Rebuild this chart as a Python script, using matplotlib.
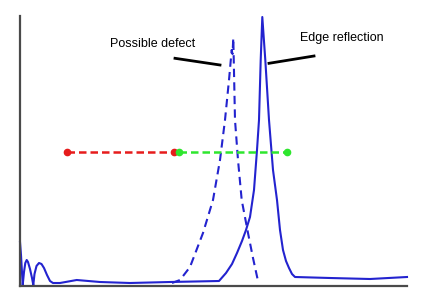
import matplotlib
matplotlib.use("Agg")
import matplotlib.pyplot as plt

# Edge reflection (solid) trace
solid_x = [0, 1, 2.7, 4, 5.3, 6.7, 8, 10, 12, 13.3, 14.5, 16.5, 19, 21.5, 24, 27, 30, 33,
           40, 56.7, 80, 110, 150, 199,
           206, 212, 217, 222, 226, 230, 234, 237, 239, 240.7, 242.3, 245.3, 249, 253, 257,
           260, 263, 266, 269, 272, 275, 310, 350, 387]
solid_y = [44, 31, 1, 14, 23, 26, 24, 17, 8, 1, 12, 20, 23, 22, 18, 11, 5, 3,
           3, 6, 4, 3, 4, 5,
           13, 22, 33, 45, 56, 69, 96, 136, 166, 226, 269, 226, 166, 116, 86,
           56, 36, 25, 18, 12, 9, 8, 7, 9]

# Possible defect (dashed) trace
dashed_x = [152, 160, 170, 183, 193, 200, 205, 209, 211.7, 212.5, 213.3, 215, 218, 221.7, 228, 233, 238]
dashed_y = [3, 6, 19, 53, 86, 126, 166, 206, 236, 232, 248, 166, 126, 86, 53, 28, 5]

# Horizontal range markers
red_x = [46.7, 154]
red_y = [134, 134]
green_x = [159.3, 266.7]
green_y = [134, 134]

# Annotation labels and leader lines
label_defect = "Possible defect"
label_edge = "Edge reflection"
defect_line_x = [155, 200]
defect_line_y = [227.7, 221]
edge_line_x = [249, 294]
edge_line_y = [222.7, 230]

fig = plt.figure(figsize=(4.4, 3.02), dpi=100)
ax = fig.add_axes([20 / 440, 16 / 302, 387 / 440, 270 / 302])
ax.set_xlim(0, 387)
ax.set_ylim(0, 270)

blue = "#2323cf"
ax.plot(solid_x, solid_y, color=blue, lw=1.5, clip_on=False)
ax.plot(dashed_x, dashed_y, color=blue, lw=1.5, ls=(0, (4, 2.5)), clip_on=False)

ax.plot(red_x, red_y, color="#e61c1c", lw=1.8, ls=(0, (3, 1.6)), marker="o", ms=4.5)
ax.plot(green_x, green_y, color="#2ee62e", lw=1.8, ls=(0, (3, 1.6)), marker="o", ms=4.5)

ax.plot(defect_line_x, defect_line_y, color="black", lw=2)
ax.plot(edge_line_x, edge_line_y, color="black", lw=2)

ax.text(132.5, 242, label_defect, ha="center", va="center", fontsize=9,
        family="Liberation Sans")
ax.text(322, 248, label_edge, ha="center", va="center", fontsize=9,
        family="Liberation Sans")

for s in ["top", "right"]:
    ax.spines[s].set_visible(False)
for s in ["left", "bottom"]:
    ax.spines[s].set_color("#4a4a4a")
    ax.spines[s].set_linewidth(1.6)
ax.set_xticks([])
ax.set_yticks([])

fig.savefig("out.png", dpi=100)
